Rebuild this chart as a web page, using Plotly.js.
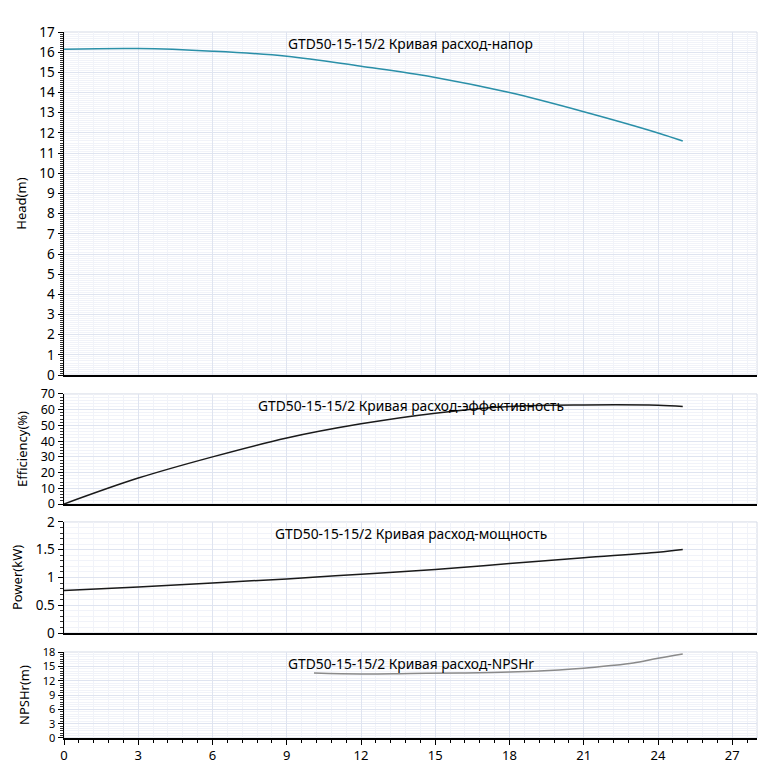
<!DOCTYPE html>
<html>
<head>
<meta charset="utf-8">
<script src="https://cdn.plot.ly/plotly-3.0.1.min.js"></script>
<style>html,body{margin:0;padding:0;background:#fff;}#chart{width:767px;height:763px;}</style>
</head>
<body>
<div id="chart"></div>
<script>
// ---- data ----
const model = "GTD50-15-15/2";
const headX = [0, 3, 6, 9, 12, 15, 18, 21, 24, 25];
const headY = [16.15, 16.18, 16.05, 15.8, 15.3, 14.75, 14.0, 13.05, 12.0, 11.6];
const effX = [0, 3, 6, 9, 12, 15, 18, 21, 24, 25];
const effY = [0, 16.5, 30, 42, 51, 57.8, 62, 63, 62.8, 62];
const powX = [0, 3, 6, 9, 12, 15, 18, 21, 24, 25];
const powY = [0.765, 0.83, 0.9, 0.975, 1.06, 1.145, 1.25, 1.355, 1.455, 1.505];
const npshX = [10.1, 12, 14, 16, 18, 20, 21, 22, 23, 24, 25];
const npshY = [13.6, 13.4, 13.5, 13.6, 13.8, 14.25, 14.6, 15.1, 15.7, 16.7, 17.6];
const titles = ["Кривая расход-напор", "Кривая расход-эффективность", "Кривая расход-мощность", "Кривая расход-NPSHr"];
const yTitles = ["Head(m)", "Efficiency(%)", "Power(kW)", "NPSHr(m)"];
const xTickVals = [0, 3, 6, 9, 12, 15, 18, 21, 24, 27];

const font = "Noto Sans, Open Sans, sans-serif";
const gridMajor = "#dfe4f0";
const gridMinor = "#f1f3f9";

const traces = [
  {x: headX, y: headY, xaxis: "x", yaxis: "y", mode: "lines", line: {color: "#2a8fa8", width: 1.5, shape: "spline"}},
  {x: effX, y: effY, xaxis: "x2", yaxis: "y2", mode: "lines", line: {color: "#1a1a1a", width: 1.5, shape: "spline"}},
  {x: powX, y: powY, xaxis: "x3", yaxis: "y3", mode: "lines", line: {color: "#1a1a1a", width: 1.5, shape: "spline"}},
  {x: npshX, y: npshY, xaxis: "x4", yaxis: "y4", mode: "lines", line: {color: "#8a8a8a", width: 1.5, shape: "spline"}}
];

const domains = [[0.514, 1.0], [0.3314, 0.4873], [0.1487, 0.306], [0, 0.1218]];
const yRanges = [[0, 17], [0, 70], [0, 2], [0, 18]];
const yDticks = [1, 10, 0.5, 3];
const yMinor = [0.1, 2, 0.1, 0.5];
const yTickSize = [13.5, 12.5, 13.5, 11];

function xAxis(i, last) {
  return {
    domain: [0, 1], anchor: i === 0 ? "y" : "y" + (i + 1),
    range: [0, 28], tickmode: "array", tickvals: xTickVals,
    showticklabels: last, ticks: last ? "outside" : "", ticklen: 5, tickcolor: "#000",
    showline: true, linecolor: "#000", linewidth: 1.5,
    showgrid: true, gridcolor: gridMajor, gridwidth: 1, zeroline: false,
    minor: {dtick: 0.6, tick0: 0, showgrid: true, gridcolor: gridMinor, ticks: last ? "outside" : "", ticklen: 3, tickcolor: "#000"},
    tickfont: {family: font, size: 13, color: "#000"},
    matches: i === 0 ? undefined : "x"
  };
}
function yAxis(i) {
  return {
    domain: domains[i], anchor: i === 0 ? "x" : "x" + (i + 1),
    range: yRanges[i], dtick: yDticks[i], tick0: 0,
    ticks: "outside", ticklen: 5, tickcolor: "#000",
    showline: true, linecolor: "#000", linewidth: 1.5,
    showgrid: true, gridcolor: gridMajor, zeroline: false,
    minor: {dtick: yMinor[i], tick0: 0, showgrid: true, gridcolor: gridMinor, ticks: "outside", ticklen: 3, tickcolor: "#333"},
    tickfont: {family: font, size: yTickSize[i], color: "#000"},
    title: {text: yTitles[i], font: {family: font, size: 13, color: "#000"}, standoff: 10}
  };
}

const layout = {
  width: 767, height: 763,
  margin: {l: 64, r: 10, t: 32, b: 25},
  paper_bgcolor: "#fff", plot_bgcolor: "#fff",
  showlegend: false,
  annotations: [], shapes: []
};
for (let i = 0; i < 4; i++) {
  const sfx = i === 0 ? "" : String(i + 1);
  layout["xaxis" + sfx] = xAxis(i, i === 3);
  layout["yaxis" + sfx] = yAxis(i);
  layout.annotations.push({
    text: model + " " + titles[i], showarrow: false,
    xref: "x" + sfx + " domain", yref: "y" + sfx + " domain",
    x: 0.5, y: 1, yanchor: "top", yshift: 0,
    font: {family: font, size: 13.8, color: "#000"}
  });
  layout.shapes.push({
    type: "rect", xref: "x" + sfx + " domain", yref: "y" + sfx + " domain",
    x0: 0, x1: 1, y0: 0, y1: 1, line: {color: "#d5dae6", width: 1}, layer: "below"
  });
}

Plotly.newPlot("chart", traces, layout, {displayModeBar: false, staticPlot: true});
</script>
</body>
</html>
